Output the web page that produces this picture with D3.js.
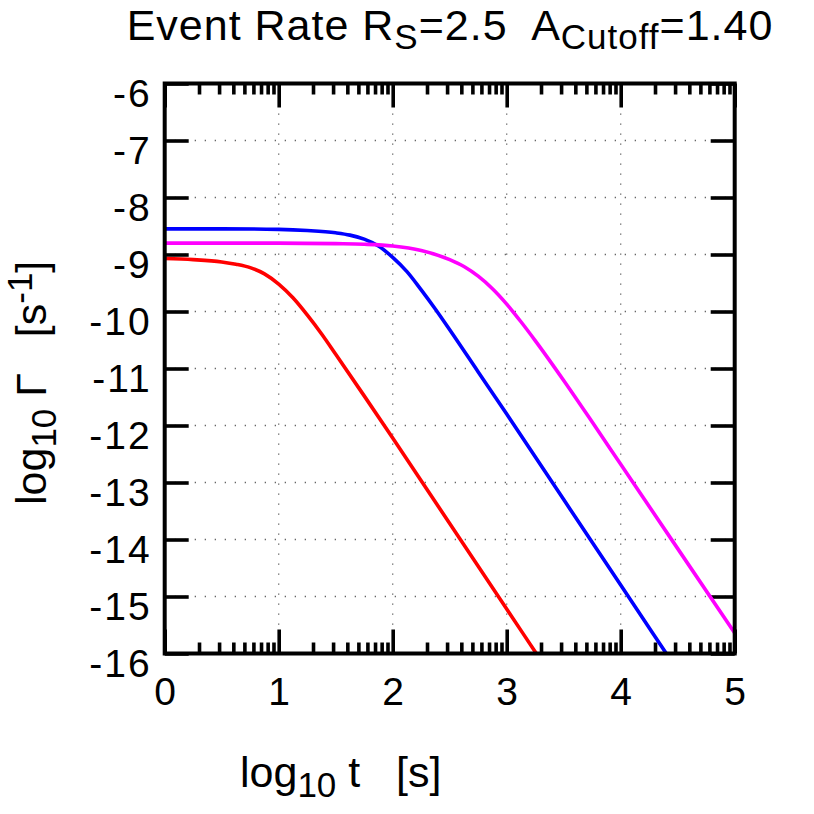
<!DOCTYPE html>
<html>
<head>
<meta charset="utf-8">
<script src="https://cdn.jsdelivr.net/npm/d3@7"></script>
<style>
  body { margin: 0; background: #fff; }
  text { font-family: "Liberation Sans", Arial, sans-serif; fill: #000; white-space: pre; }
</style>
</head>
<body>
<div id="chart"></div>
<script>
// curves: x = log10 t, y = log10 Gamma
const redT = [0, 0.25, 0.5, 0.625, 0.75, 0.875, 1.0, 1.125, 1.25, 1.375, 1.5, 1.75, 2.0, 2.5, 3.0, 3.27];
const redG = [-9.07, -9.09, -9.13, -9.17, -9.23, -9.34, -9.52, -9.76, -10.06, -10.39, -10.75, -11.48, -12.22, -13.72, -15.22, -16.03];

const blueT = [0, 0.5, 1.0, 1.25, 1.5, 1.625, 1.75, 1.875, 2.0, 2.125, 2.25, 2.375, 2.5, 2.75, 3.0, 3.5, 4.0, 4.4];
const blueG = [-8.55, -8.55, -8.56, -8.58, -8.62, -8.66, -8.73, -8.85, -9.05, -9.30, -9.62, -9.96, -10.32, -11.06, -11.80, -13.30, -14.80, -16.0];

const magT = [0, 1.0, 1.5, 1.75, 2.0, 2.25, 2.5, 2.625, 2.75, 2.875, 3.0, 3.125, 3.25, 3.5, 3.75, 4.0, 4.5, 5.0];
const magG = [-8.80, -8.80, -8.81, -8.82, -8.85, -8.93, -9.09, -9.21, -9.38, -9.60, -9.87, -10.18, -10.51, -11.21, -11.94, -12.68, -14.16, -15.64];

const xTicks = [0, 1, 2, 3, 4, 5];
const yTicks = [-6, -7, -8, -9, -10, -11, -12, -13, -14, -15, -16];

const series = [
    {t: redT, g: redG, color: "#ff0000"},
    {t: blueT, g: blueG, color: "#0000ff"},
    {t: magT, g: magG, color: "#ff00ff"}
];

const margin = {top: 83.5, left: 164.7};
const width = 570, height = 570;

const svg = d3.select("#chart").append("svg")
    .attr("width", 814)
    .attr("height", 814);

const g = svg.append("g")
    .attr("transform", "translate(" + margin.left + "," + margin.top + ")");

const x = d3.scaleLinear().domain([0, 5]).range([0, width]);
const y = d3.scaleLinear().domain([-16, -6]).range([height, 0]);

// minor ticks at log10 of 2..9 inside each unit
const minor = [];
for (let i = 0; i < 5; i++) {
    for (let k = 2; k <= 9; k++) minor.push(i + Math.log10(k));
}

// dotted grid
const grid = g.append("g").attr("class", "grid");
grid.selectAll(".gx")
    .data(xTicks.filter(d => d > 0 && d < 5))
    .enter().append("line")
    .attr("x1", d => x(d)).attr("x2", d => x(d))
    .attr("y1", 0).attr("y2", height);
grid.selectAll(".gy")
    .data(yTicks.filter(d => d > -16 && d < -6))
    .enter().append("line")
    .attr("x1", 0).attr("x2", width)
    .attr("y1", d => y(d)).attr("y2", d => y(d));
grid.selectAll("line")
    .attr("stroke", "#666")
    .attr("stroke-width", 1.3)
    .attr("stroke-dasharray", "1.3,8.7");

// axes with inward ticks
const fmt = d => String(d);
const bottomMajor = d3.axisBottom(x).tickValues(xTicks).tickSize(-24).tickPadding(27).tickFormat(fmt);
const bottomMinor = d3.axisBottom(x).tickValues(minor).tickSize(-11).tickFormat("");
const topMajor = d3.axisTop(x).tickValues(xTicks).tickSize(-24).tickFormat("");
const topMinor = d3.axisTop(x).tickValues(minor).tickSize(-11).tickFormat("");
const leftAxis = d3.axisLeft(y).tickValues(yTicks).tickSize(-24).tickPadding(13).tickFormat(fmt);
const rightAxis = d3.axisRight(y).tickValues(yTicks).tickSize(-24).tickFormat("");

g.append("g").attr("class", "axis x-axis").attr("transform", "translate(0," + height + ")").call(bottomMajor);
g.append("g").attr("class", "axis").attr("transform", "translate(0," + height + ")").call(bottomMinor);
g.append("g").attr("class", "axis").call(topMajor);
g.append("g").attr("class", "axis").call(topMinor);
g.append("g").attr("class", "axis y-axis").call(leftAxis);
g.append("g").attr("class", "axis").attr("transform", "translate(" + width + ",0)").call(rightAxis);

g.selectAll(".axis .domain").remove();
g.selectAll(".axis line")
    .attr("stroke", "#000")
    .attr("stroke-width", 3.6);
g.selectAll(".axis text")
    .style("font-size", "39px")
    .attr("fill", "#000");
g.selectAll(".x-axis text").attr("dy", "0.64em");
g.selectAll(".y-axis text").attr("dy", "0.58em").style("letter-spacing", "2px");

// curves
g.append("clipPath").attr("id", "clip")
    .append("rect").attr("width", width).attr("height", height);

const line = d3.line()
    .x(d => x(d[0]))
    .y(d => y(d[1]))
    .curve(d3.curveMonotoneX);

g.append("g").attr("clip-path", "url(#clip)")
    .selectAll("path")
    .data(series)
    .enter().append("path")
    .attr("fill", "none")
    .attr("stroke", d => d.color)
    .attr("stroke-width", 3.6)
    .attr("d", d => line(d.t.map((t, i) => [t, d.g[i]])));

// frame
g.append("rect")
    .attr("width", width).attr("height", height)
    .attr("fill", "none")
    .attr("stroke", "#000")
    .attr("stroke-width", 4);

// title
const title = svg.append("text")
    .attr("x", 450).attr("y", 40)
    .attr("text-anchor", "middle")
    .style("font-size", "43px")
    .style("letter-spacing", "1px");
title.append("tspan").text("Event Rate R");
title.append("tspan").attr("dy", 9).style("font-size", "35px").text("S");
title.append("tspan").attr("dy", -9).text("=2.5  A");
title.append("tspan").attr("dy", 9).style("font-size", "35px").text("Cutoff");
title.append("tspan").attr("dy", -9).text("=1.40");

// x label
const xl = svg.append("text")
    .attr("x", 240).attr("y", 787)
    .style("font-size", "43px");
xl.append("tspan").text("log");
xl.append("tspan").attr("dy", 10).style("font-size", "35px").text("10");
xl.append("tspan").attr("dy", -10).text(" t   [s]");

// y label
const yl = svg.append("text")
    .attr("transform", "translate(46,505) rotate(-90)")
    .style("font-size", "43px");
yl.append("tspan").text("log");
yl.append("tspan").attr("dy", 10).style("font-size", "35px").text("10");
yl.append("tspan").attr("dy", -10).text(" \u0393   [s");
yl.append("tspan").attr("dy", -14).style("font-size", "35px").text("-1");
yl.append("tspan").attr("dy", 14).text("]");
</script>
</body>
</html>
